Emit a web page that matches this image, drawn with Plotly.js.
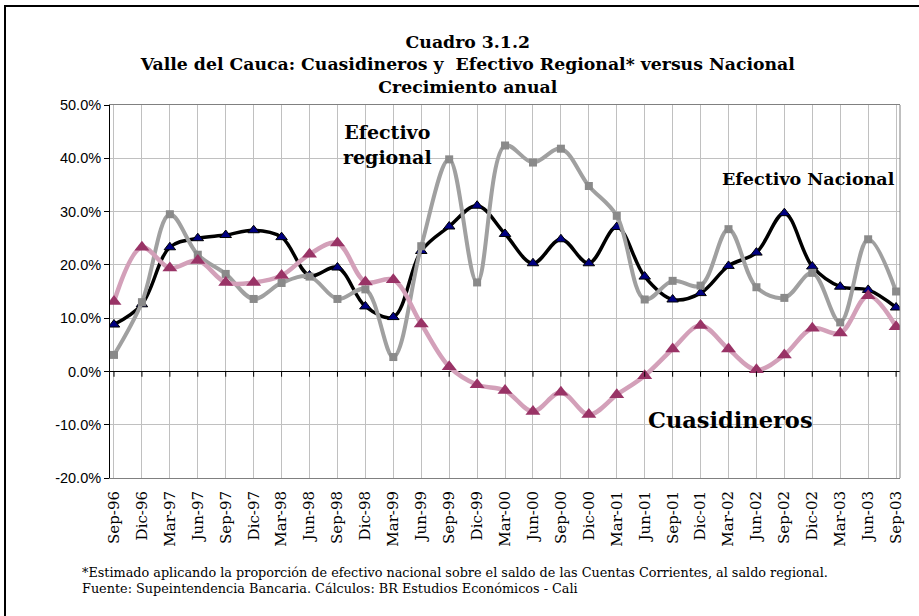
<!DOCTYPE html>
<html>
<head>
<meta charset="utf-8">
<script src="https://cdn.plot.ly/plotly-3.0.1.min.js"></script>
<style>
  html, body { margin: 0; padding: 0; background: #fff; }
  #frame { position: absolute; left: 4px; top: 5px; width: 930px; height: 630px; border-left: 2px solid #000; border-top: 2px solid #000; pointer-events: none; }
  #chart { position: absolute; left: 0; top: 0; width: 919px; height: 616px; }
</style>
</head>
<body>
<div id="chart"></div>
<div id="frame"></div>
<script>
const categories = ["Sep-96","Dic-96","Mar-97","Jun-97","Sep-97","Dic-97","Mar-98","Jun-98","Sep-98","Dic-98",
  "Mar-99","Jun-99","Sep-99","Dic-99","Mar-00","Jun-00","Sep-00","Dic-00","Mar-01","Jun-01",
  "Sep-01","Dic-01","Mar-02","Jun-02","Sep-02","Dic-02","Mar-03","Jun-03","Sep-03"];

const efectivoNacional = [8.8, 12.6, 23.3, 25.0, 25.6, 26.5, 25.2, 18.0, 19.5, 12.2,
  10.2, 22.6, 27.2, 31.1, 25.8, 20.3, 24.8, 20.3, 27.1, 17.8,
  13.5, 14.7, 19.8, 22.3, 29.7, 19.7, 15.9, 15.3, 12.0];

const efectivoRegional = [3.1, 13.0, 29.5, 21.9, 18.3, 13.6, 16.6, 17.8, 13.6, 15.4,
  2.7, 23.5, 39.8, 16.7, 42.4, 39.2, 41.8, 34.8, 29.2, 13.5,
  17.0, 16.1, 26.7, 15.8, 13.8, 18.5, 9.2, 24.8, 15.0];

const cuasidineros = [13.1, 23.3, 19.4, 20.8, 16.7, 16.7, 18.0, 22.0, 24.1, 16.8,
  17.2, 8.9, 0.9, -2.5, -3.6, -7.5, -3.9, -8.1, -4.4, -0.8,
  4.2, 8.6, 4.2, 0.3, 3.1, 8.1, 7.2, 14.2, 8.4];

const yTickVals = [-20, -10, 0, 10, 20, 30, 40, 50];

const titleText = "Cuadro 3.1.2<br>Valle del Cauca: Cuasidineros y \u00a0Efectivo Regional* versus Nacional<br>Crecimiento anual";
const footnote1 = "*Estimado aplicando la proporción de efectivo nacional sobre el saldo de las Cuentas Corrientes, al saldo regional.";
const footnote2 = "Fuente: Supeintendencia Bancaria. Cálculos: BR Estudios Económicos - Cali";

const serif = "DejaVu Serif, serif";

const traces = [
  {
    x: categories, y: efectivoNacional, type: "scatter", mode: "lines+markers", name: "Efectivo Nacional",
    line: { color: "#000000", width: 3.5, shape: "spline", smoothing: 1 },
    marker: { symbol: "triangle-up", size: 10, color: "#000080", line: { color: "#000000", width: 1 } }
  },
  {
    x: categories, y: efectivoRegional, type: "scatter", mode: "lines+markers", name: "Efectivo regional",
    line: { color: "#a0a0a0", width: 4, shape: "spline", smoothing: 1 },
    marker: { symbol: "square", size: 8, color: "#8a8a8a" }
  },
  {
    x: categories, y: cuasidineros, type: "scatter", mode: "lines+markers", name: "Cuasidineros",
    line: { color: "#d3a0b9", width: 4.5, shape: "spline", smoothing: 1 },
    marker: { symbol: "triangle-up", size: 13, color: "#993366" }
  }
];

// tick marks along the category axis that crosses at 0
const tickShapes = categories.map((c, i) => ({
  type: "line", xref: "x", yref: "y", x0: i, x1: i, y0: 0, y1: -1.0,
  line: { color: "#000000", width: 1 }, layer: "above"
}));

const layout = {
  width: 919, height: 616,
  margin: { l: 110, r: 19, t: 105, b: 138 },
  paper_bgcolor: "#ffffff", plot_bgcolor: "#ffffff",
  showlegend: false,
  title: {
    text: titleText,
    font: { family: serif, size: 17.3, color: "#000000", weight: "bold" },
    x: 0.509, xanchor: "center", xref: "container",
    y: 1 - 48 / 616, yanchor: "middle", yref: "container"
  },
  xaxis: {
    type: "category",
    range: [-0.143, 28.14],
    showgrid: true, gridcolor: "#c0c0c0", gridwidth: 1,
    showline: true, linecolor: "#808080", linewidth: 1, mirror: true,
    ticks: "", tickangle: -90, ticklabelstandoff: 6,
    tickfont: { family: serif, size: 15, color: "#000000" },
    zeroline: false, fixedrange: true
  },
  yaxis: {
    range: [-20, 50],
    tickvals: yTickVals,
    ticktext: yTickVals.map(v => v.toFixed(1) + "%"),
    tickfont: { family: "Liberation Sans, Arial, sans-serif", size: 14.5, color: "#000000" },
    showgrid: true, gridcolor: "#c0c0c0", gridwidth: 1,
    showline: true, linecolor: "#000000", linewidth: 1,
    ticks: "outside", ticklen: 5, tickcolor: "#000000",
    zeroline: true, zerolinecolor: "#000000", zerolinewidth: 1,
    fixedrange: true
  },
  shapes: tickShapes.concat([
    { type: "line", xref: "paper", yref: "paper", x0: 1, x1: 1, y0: 0, y1: 1, line: { color: "#808080", width: 1 } }
  ]),
  annotations: [
    { text: "Efectivo<br>regional", xref: "paper", yref: "paper", x: (387 - 110) / 790, y: (478 - 144) / 373,
      showarrow: false, xanchor: "center", yanchor: "middle",
      font: { family: serif, size: 19, color: "#000000", weight: "bold" } },
    { text: "Efectivo Nacional", xref: "paper", yref: "paper", x: (808 - 110) / 790, y: (478 - 179) / 373,
      showarrow: false, xanchor: "center", yanchor: "middle",
      font: { family: serif, size: 17.5, color: "#000000", weight: "bold" } },
    { text: "Cuasidineros", xref: "paper", yref: "paper", x: (730 - 110) / 790, y: (478 - 420) / 373,
      showarrow: false, xanchor: "center", yanchor: "middle",
      font: { family: serif, size: 22.5, color: "#000000", weight: "bold" } },
    { text: footnote1, xref: "paper", yref: "paper", x: (80 - 110) / 790, y: (478 - 572) / 373,
      showarrow: false, xanchor: "left", yanchor: "middle",
      font: { family: serif, size: 12.8, color: "#000000" } },
    { text: footnote2, xref: "paper", yref: "paper", x: (80 - 110) / 790, y: (478 - 588) / 373,
      showarrow: false, xanchor: "left", yanchor: "middle",
      font: { family: serif, size: 12.8, color: "#000000" } }
  ]
};

Plotly.newPlot("chart", traces, layout, { displayModeBar: false, staticPlot: true });
</script>
</body>
</html>
